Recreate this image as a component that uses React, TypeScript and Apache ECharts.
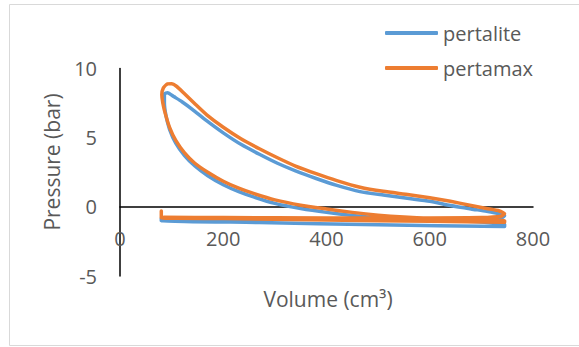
import React, { useEffect, useRef } from "react";
import * as echarts from "echarts";

const seriesNames = ["pertalite", "pertamax"];
const xTicks = [0, 200, 400, 600, 800];
const yTicks = [-5, 0, 5, 10];

// pertalite: intake, compression, expansion, exhaust
const pertaliteV = [80, 80, 270, 500, 745,
  745, 700, 650, 600, 550, 500, 450, 400, 350, 300, 260, 230, 200, 170, 145, 125, 108, 96, 89, 86, 86,
  92, 105, 120, 140, 167, 200, 235, 270, 305, 340, 380, 420, 465, 510, 560, 600, 640, 680, 710, 735, 745, 738,
  700, 600, 400, 200, 85];
const pertaliteP = [-0.85, -1.0, -1.13, -1.3, -1.42,
  -1.25, -1.1, -1.02, -0.95, -0.88, -0.78, -0.62, -0.4, -0.12, 0.25, 0.7, 1.1, 1.6, 2.25, 2.95, 3.7, 4.6, 5.6, 6.6, 7.5, 8.15,
  8.25, 7.95, 7.6, 7.05, 6.25, 5.35, 4.5, 3.8, 3.15, 2.6, 2.05, 1.55, 1.1, 0.85, 0.6, 0.4, 0.1, -0.15, -0.32, -0.5, -0.65, -0.82,
  -0.88, -0.88, -0.88, -0.87, -0.85];

// pertamax
const pertamaxV = [80, 80, 200, 400, 600, 745,
  745, 700, 650, 600, 550, 500, 450, 400, 350, 300, 260, 230, 200, 170, 145, 125, 108, 96, 88, 83, 81,
  84, 92, 100, 110,
  123, 145, 168, 200, 235, 270, 305, 340, 380, 420, 465, 510, 560, 600, 640, 680, 710, 735, 745, 738,
  700, 600, 400, 200, 85];
const pertamaxP = [-0.3, -0.8, -0.85, -0.95, -1.05, -1.12,
  -1.0, -0.93, -0.88, -0.83, -0.74, -0.6, -0.4, -0.15, 0.12, 0.5, 0.95, 1.35, 1.85, 2.5, 3.15, 3.9, 4.8, 5.75, 6.7, 7.5, 8.1,
  8.6, 8.88, 8.9, 8.7,
  8.25, 7.45, 6.65, 5.75, 4.9, 4.2, 3.55, 2.95, 2.4, 1.9, 1.42, 1.12, 0.88, 0.66, 0.4, 0.1, -0.12, -0.3, -0.5, -0.68,
  -0.78, -0.8, -0.8, -0.78, -0.75];

const zip = (a: number[], b: number[]) => a.map((v, i) => [v, b[i]]);

export default function App() {
  const ref = useRef<HTMLDivElement>(null);
  useEffect(() => {
    if (!ref.current) return;
    const chart = echarts.init(ref.current, null, { renderer: "svg" });
    const font = "Open Sans";
    const gray = "#595959";
    chart.setOption({
      animation: false,
      backgroundColor: "#ffffff",
      grid: { left: 120, right: 46, top: 68.5, bottom: 71, containLabel: false },
      legend: {
        orient: "vertical",
        left: 380,
        top: 18,
        itemWidth: 53,
        itemHeight: 4,
        itemGap: 15,
        icon: "roundRect",
        data: seriesNames,
        textStyle: { fontFamily: font, fontSize: 20, color: gray, padding: [0, 0, 0, 0], lineHeight: 20 },
      },
      xAxis: {
        type: "value",
        min: xTicks[0],
        max: xTicks[xTicks.length - 1],
        interval: 200,
        axisLine: { show: true, onZero: true, lineStyle: { color: "#000", width: 1.5 } },
        axisTick: { show: false },
        splitLine: { show: false },
        axisLabel: { fontFamily: font, fontSize: 20, color: gray, margin: -48 },
      },
      yAxis: {
        type: "value",
        min: yTicks[0],
        max: yTicks[yTicks.length - 1],
        interval: 5,
        axisLine: { show: true, onZero: true, lineStyle: { color: "#000", width: 1.5 } },
        axisTick: { show: false },
        splitLine: { show: false },
        axisLabel: { fontFamily: font, fontSize: 20, color: gray, margin: 23 },
      },
      graphic: [
        {
          type: "rect",
          shape: { x: 9.5, y: 4.5, width: 580, height: 341 },
          style: { fill: "none", stroke: "#d9d9d9", lineWidth: 1 },
          silent: true,
        },
        {
          type: "text",
          x: 52,
          y: 162,
          rotation: Math.PI / 2,
          style: {
            text: "Pressure (bar)",
            fontFamily: font,
            fontSize: 21,
            fill: gray,
            align: "center",
            verticalAlign: "middle",
          },
        },
        {
          type: "text",
          x: 328,
          y: 299,
          style: {
            text: "Volume (cm³)",
            fontFamily: font,
            fontSize: 21,
            fill: gray,
            align: "center",
            verticalAlign: "middle",
          },
        },
      ],
      series: [
        {
          name: seriesNames[0],
          type: "line",
          data: zip(pertaliteV, pertaliteP),
          showSymbol: false,
          smooth: 0.2,
          lineStyle: { color: "#5B9BD5", width: 3.5, cap: "round", join: "round" },
          itemStyle: { color: "#5B9BD5" },
        },
        {
          name: seriesNames[1],
          type: "line",
          data: zip(pertamaxV, pertamaxP),
          showSymbol: false,
          smooth: 0.2,
          lineStyle: { color: "#ED7D31", width: 3.5, cap: "round", join: "round" },
          itemStyle: { color: "#ED7D31" },
        },
      ],
    });
    return () => chart.dispose();
  }, []);
  return (
    <div
      ref={ref}
      style={{ position: "absolute", left: 0, top: 0, width: 579, height: 347 }}
    />
  );
}
